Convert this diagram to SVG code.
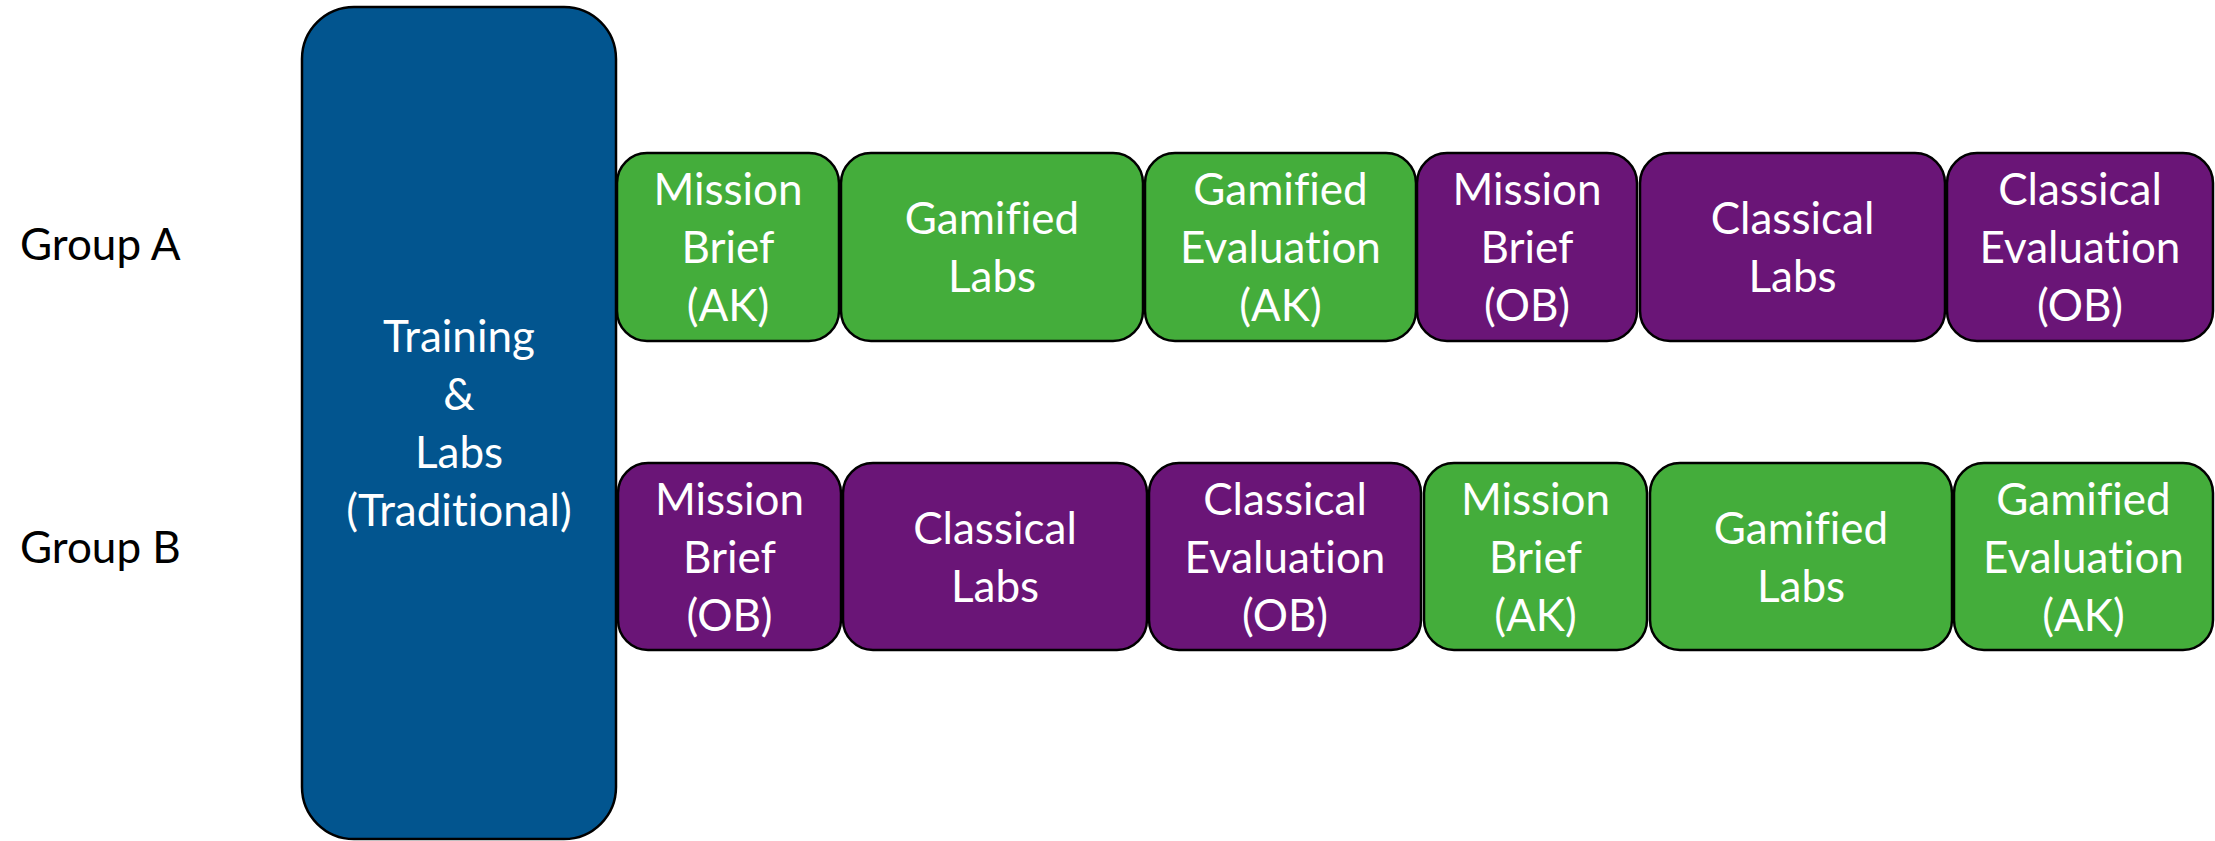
<svg xmlns="http://www.w3.org/2000/svg" width="2215" height="841" viewBox="0 0 2215 841">
<style>
.box{stroke:#000;stroke-width:2.5}
.g{fill:#44AD3B}
.p{fill:#6A1577}
.b{fill:#02558F}
text{font-family:Lato,"Open Sans","Liberation Sans",sans-serif;font-size:44px;fill:#fff;text-anchor:middle;font-variant-ligatures:none;font-feature-settings:"liga" 0,"clig" 0,"dlig" 0}
.lbl{fill:#000;text-anchor:start}
</style>
<rect width="2215" height="841" fill="#fff"/>
<g id="labels">
<text class="lbl" x="20" y="260">Group A</text>
<text class="lbl" x="20" y="563">Group B</text>
</g>
<g id="training">
<rect class="box b" x="302" y="7" width="314" height="832" rx="52"/>
<text x="459" y="352">Training</text>
<text x="459" y="410">&amp;</text>
<text x="459" y="468">Labs</text>
<text x="459" y="526">(Traditional)</text>
</g>
<g id="a1"><rect class="box g" x="617" y="153" width="222" height="188" rx="30"/>
<text x="728" y="205">Mission</text><text x="728" y="263">Brief</text><text x="728" y="321">(AK)</text></g>
<g id="a2"><rect class="box g" x="841" y="153" width="302" height="188" rx="30"/>
<text x="992" y="234">Gamified</text><text x="992" y="292">Labs</text></g>
<g id="a3"><rect class="box g" x="1145" y="153" width="271" height="188" rx="30"/>
<text x="1280.5" y="205">Gamified</text><text x="1280.5" y="263">Evaluation</text><text x="1280.5" y="321">(AK)</text></g>
<g id="a4"><rect class="box p" x="1417" y="153" width="220" height="188" rx="30"/>
<text x="1527" y="205">Mission</text><text x="1527" y="263">Brief</text><text x="1527" y="321">(OB)</text></g>
<g id="a5"><rect class="box p" x="1640" y="153" width="305" height="188" rx="30"/>
<text x="1792.5" y="234">Classical</text><text x="1792.5" y="292">Labs</text></g>
<g id="a6"><rect class="box p" x="1947" y="153" width="266" height="188" rx="30"/>
<text x="2080" y="205">Classical</text><text x="2080" y="263">Evaluation</text><text x="2080" y="321">(OB)</text></g>
<g id="b1"><rect class="box p" x="618" y="463" width="223" height="187" rx="30"/>
<text x="729.5" y="514.5">Mission</text><text x="729.5" y="572.5">Brief</text><text x="729.5" y="630.5">(OB)</text></g>
<g id="b2"><rect class="box p" x="843" y="463" width="304" height="187" rx="30"/>
<text x="995" y="543.5">Classical</text><text x="995" y="601.5">Labs</text></g>
<g id="b3"><rect class="box p" x="1149" y="463" width="272" height="187" rx="30"/>
<text x="1285" y="514.5">Classical</text><text x="1285" y="572.5">Evaluation</text><text x="1285" y="630.5">(OB)</text></g>
<g id="b4"><rect class="box g" x="1424" y="463" width="223" height="187" rx="30"/>
<text x="1535.5" y="514.5">Mission</text><text x="1535.5" y="572.5">Brief</text><text x="1535.5" y="630.5">(AK)</text></g>
<g id="b5"><rect class="box g" x="1650" y="463" width="302" height="187" rx="30"/>
<text x="1801" y="543.5">Gamified</text><text x="1801" y="601.5">Labs</text></g>
<g id="b6"><rect class="box g" x="1954" y="463" width="259" height="187" rx="30"/>
<text x="2083.5" y="514.5">Gamified</text><text x="2083.5" y="572.5">Evaluation</text><text x="2083.5" y="630.5">(AK)</text></g>
<g id="connectors"></g>
</svg>
